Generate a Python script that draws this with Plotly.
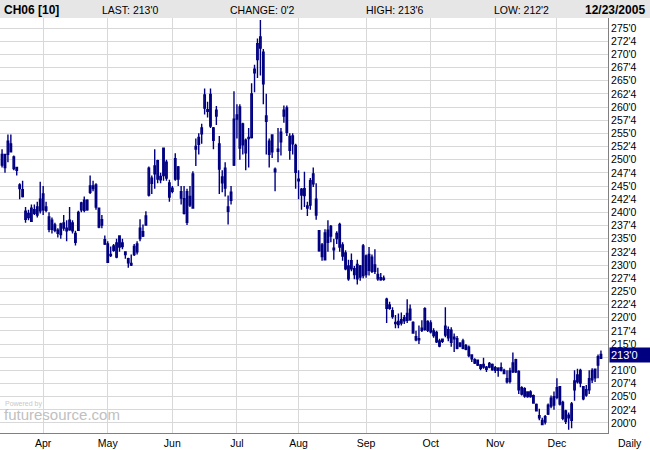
import plotly.graph_objects as go

# Apr - early Sep
opens_a = [249,251,251,253,248.3,248.5, 245.2,244.3,238.7,239,238.3,240.5,241,242.5,240.5,240.4,
 239.1,236.8,237.6,236.6,235.8,238,236.5,236.7,238,236,236.6,240.5,242.3,242.3,245,244.5,245.2,240.8,237.6,
 234.8,234,232,233.6,231.5,235.5,234.2,232.5,231.2,230.3,232,232.5,235,236.3,237.6,
 243.3,246.5,248.8,246.3,246.8,252.2,246.5,245.6,244,250.2,248.6,243.9,239.8,243.9,241.4,240.8,
 252,254.2,254.9,259.8,259.5,262.4,256,258.3,253,246.7,248.4,241,242.3,249,258.5,252.2,256.8,251.3,254,254.2,266.5,269,271.2,270.4,257.3,253.5,254.7,248.2,252,253.4,258.3,259.8,254.4,254.5,252.7,
 246.3,244.4,244.5,241.2,241.4,245.4,242.5,
 236.5,233.8,231,236.6,237.3,233.2,235,237.7,233.8,232.3,229.8,229.3,229.3,230.1,229.8,228,231.7,232,228.8,230,228.2,227.6,227.5]
highs_a = [252,251,254.8,254.8,250.8,248.5, 245.5,246,241,240.5,241.5,241.5,242,245.8,245,242,
 240,239,238,237,238,239.5,238.5,241,238.5,236.5,240.3,242,243,242.5,247,246,245.5,240.8,239.5,
 235.6,234.5,233.5,234,235,235.6,235,232.6,231.4,232,234,234.5,238.7,237.7,240.2,
 248.7,247,252,250,247.5,252.3,250,246.2,245,251.2,248.8,245,245,244.5,245,247.8,
 254,255,256.8,263.5,261,263.5,256.2,260.2,254.5,248,249.5,243.2,245,263,260.5,260.5,257,254,256,264.5,268,273,276.5,271,262.5,254,254.8,248.5,256,256,260.3,260.3,255,255,253,
 248,244.6,247.7,242,246.5,248.5,245.5,
 236.6,234.2,236.8,238.5,237.6,235,236.4,238,234.3,232.8,231,232.2,229.8,231,230,234,232,233.4,232,233,229.5,228.5,228]
lows_a = [248.5,247.5,249.5,251.5,248,247, 242.5,242.8,238,238.5,238.3,239.5,239,239.8,239.5,240,
 236.2,236,236.2,235.2,235,236.5,234.5,236.5,236,233.7,236.5,240,240,240.3,243.5,244,240.5,237,237,
 233.8,230.5,231.5,232.5,231.3,232.5,233,231.2,229.5,229.8,231.7,232,234.5,235.3,237.5,
 243,243.5,244.5,245.5,245.5,246,246,242,243.6,246,245,241.5,239.6,237.6,241,240.8,
 248.8,251,253,258.6,258,256,252,256.6,243.5,243.8,243,237.7,241.5,248.8,254,250,251,248,248.5,254,262.8,265.5,266,260.5,251,248.5,250.3,244,249.5,250.8,257,254.5,250,251,244.5,
 242.5,240.5,241,239.3,240.5,244.8,238.6,
 232.5,230.8,231,232.5,234.3,231,234,232.5,230.8,229,227,228.8,227.3,226.3,227,227.5,227.6,228,228.5,228.3,227,227,227]
closes_a = [251,248.5,253.5,251.5,250.5,248, 244.5,243,240.2,239.8,240.8,239.8,239.5,240.3,243.5,241,
 236.8,238.5,236.6,236,237.8,237,237,238.5,236.5,234.3,240,241.8,240.4,240.5,243.8,245,241,237.2,238.6,
 234,230.5,231.8,232.8,234.2,233.4,233.5,232,230.4,230,233.5,234,237,235.5,239.3,
 248.4,245.5,247.3,249.8,246.2,247,249.5,242.9,244.6,246.3,246.3,242.7,242.6,238.1,243,247.3,
 252.5,252.9,256,262.3,259.2,256.4,253.7,259.4,248.2,245.6,244.6,240.2,243.8,257.7,257.7,260,252.8,253.7,254.2,262.5,267.2,272,273.3,264.4,258.3,251,251.5,247.7,251.6,255.2,259.4,255.2,251.8,253,247.6,
 246,243.3,243.2,240.8,246,247.3,239.5,
 232.7,231.6,236.1,234.3,235.5,232.9,236,233.4,231.7,229.3,227.4,230.8,228.2,227.4,227.7,233.6,228.2,229,231.5,228.8,227.4,227.2,227.3]

# mid Sep - mid Nov
opens_b = [221.8,222.4,221.3,219.1,219.3,219.6,220,219.5,221.6,219.1,216.4,216,218,217.8,219.3,219,217.5,217.2,215.6,215.9,
 216.7,217.7,217.6,216.3,216,215.2,214.2,214.7,214.4,212.9,212,211.9,211,210.6,210.6,210.6,211.1,210.5,210.4,210]
highs_b = [223.8,223,222,220.5,220.8,221,220.5,223.5,222.5,219.3,217.5,218.5,219.5,222,219.5,219.5,218,217.5,216,216,
 222,218.3,218.2,217,216.5,215.3,216,215,214.7,213,212.3,212,211.2,212.4,210.8,211.6,211.3,210.8,210.6,211.5]
lows_b = [219,221.5,219.8,218,218,218.5,218.8,219,219.4,217,215.5,215,217.3,217.5,217.3,217,216.2,215.2,214.4,215.2,
 216.3,215.5,214.5,213.5,214,214.4,214,213.8,212.5,211.6,211.2,210.8,210,210.3,209.7,210.4,209.9,209.5,208.8,209.8]
closes_b = [223.5,221.8,220.2,218.9,218.7,219,219.4,220.8,219.6,217.1,215.8,215.8,217.6,221.7,217.6,217.3,216.6,215.4,214.6,215.5,
 218.4,216.2,215.3,216,214.2,214.6,215.6,214,212.8,212.2,211.4,211,210.4,211.1,210.2,211.3,210.1,210,210,210.5]

# mid Nov - Dec 23
opens_c = [210,208.4,207.9,209.7,212,209.8,205.5,206.5,205.9,205.9,205.2,203.5,201,200.5,200.2,201.7,203.2,205,204.9,206.9,
 203.9,202.3,201.5,200.5,206.3,209.1,210,206.9,205.3,206.3,208.2,210.2,211,212.3]
highs_c = [210.3,210,210.5,213.4,212.2,210,207,206.8,206,206.2,205.4,203.7,202.7,201,201.5,203.7,205.2,206,208.5,207,
 204.2,202.5,202,204,210,210.3,210.3,207,207.2,210,210.4,210.3,213,213.75]
lows_c = [209.3,207.5,207.5,209.5,209.5,205.5,205.2,204.8,204.8,204.8,203.7,202.2,200.5,199.6,199.7,201.5,202.8,202.5,204.5,203.3,
 200.5,199.8,198.7,199,204.2,207.5,206.8,204.3,205,205.5,207.6,207.8,208.5,212.25]
closes_c = [209.4,207.8,209.9,211.4,209.7,206.3,206.7,205.1,205,205,203.8,202.3,201.4,199.7,201.2,203.4,204.7,203.4,206.7,203.6,
 200.9,200.3,201,203.6,208,207.8,207.6,204.6,206.3,208.4,210,208.6,212.6,213]

opens = opens_a + opens_b + opens_c
highs = highs_a + highs_b + highs_c
lows = lows_a + lows_b + lows_c
closes = closes_a + closes_b + closes_c

month_labels = ["Apr","May","Jun","Jul","Aug","Sep","Oct","Nov","Dec"]
month_idx = [14,36,58,80,101,124,146,168,189]
price_ticks = [200 + 2.5*k for k in range(31)]

def fmt(v):
    if v == 212.5:
        return ""
    return f"{int(v)}'{0 if v == int(v) else 4}"

idx = list(range(len(closes)))
NAVY = "#000080"
fig = go.Figure(go.Candlestick(
    x=idx, open=opens, high=highs, low=lows, close=closes,
    increasing=dict(line=dict(color=NAVY, width=1.4), fillcolor="white"),
    decreasing=dict(line=dict(color=NAVY, width=1.4), fillcolor=NAVY),
    whiskerwidth=0, hoverinfo="skip"))

fig.update_layout(
    width=650, height=450, margin=dict(l=0, r=42, t=18, b=17, autoexpand=False),
    paper_bgcolor="white", plot_bgcolor="white", showlegend=False,
    font=dict(family="Liberation Sans, Arial", size=11, color="black"),
    xaxis=dict(rangeslider=dict(visible=False), range=[-0.7, len(closes)+1.4],
               tickvals=month_idx, ticktext=month_labels, showgrid=True,
               gridcolor="#d8d8d8", gridwidth=1, ticks="", showline=True,
               linecolor="#808080", linewidth=1, zeroline=False, tickfont=dict(size=10.5),
               ticklabelstandoff=0),
    yaxis=dict(side="right", range=[198.1, 276.9], tickvals=price_ticks,
               ticktext=[fmt(v) for v in price_ticks], showgrid=True,
               gridcolor="#d8d8d8", gridwidth=1, ticks="", showline=True,
               linecolor="#808080", linewidth=1, zeroline=False, tickfont=dict(size=10.5)),
)

fig.add_shape(type="rect", xref="paper", yref="paper", x0=-0.01, x1=1.08,
              y0=1.0, y1=1.05, fillcolor="#e6e6e6", line=dict(width=0), layer="below")
hdr = [("<b>CH06 [10]</b>", 0.004, "left", 12), ("LAST: 213'0", 0.165, "left", 10.5),
       ("CHANGE: 0'2", 0.375, "left", 10.5), ("HIGH: 213'6", 0.598, "left", 10.5),
       ("LOW: 212'2", 0.81, "left", 10.5)]
for t, x, a, s in hdr:
    fig.add_annotation(text=t, xref="paper", yref="paper", x=x, y=1.02, xanchor=a,
                       yanchor="middle", showarrow=False, font=dict(size=s))
fig.add_annotation(text="<b>12/23/2005</b>", xref="paper", yref="paper", x=1.064, y=1.02,
                   xanchor="right", yanchor="middle", showarrow=False, font=dict(size=12))
fig.add_annotation(text="213'0", xref="paper", yref="y", x=1.002, y=closes[-1], xanchor="left",
                   showarrow=False, bgcolor=NAVY, font=dict(color="white", size=11),
                   width=38, align="left", borderpad=1)
fig.add_annotation(text="Daily", xref="paper", yref="paper", x=1.06, y=-0.005, xanchor="right",
                   yanchor="top", showarrow=False, font=dict(size=10.5))
fig.add_annotation(text="Powered by", xref="paper", yref="paper", x=0.005, y=0.055, xanchor="left",
                   showarrow=False, font=dict(size=7, color="#c8c8c8"))
fig.add_annotation(text="futuresource.com", xref="paper", yref="paper", x=0.003, y=0.02,
                   xanchor="left", showarrow=False, font=dict(size=15, color="#c0c0c0"))

fig.write_html("out.html", config={"displayModeBar": False},
               post_script="document.body.style.margin='0';document.body.style.padding='0';")
